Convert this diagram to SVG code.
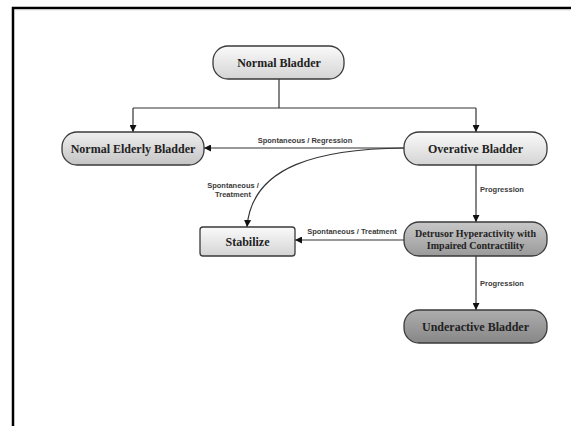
<svg xmlns="http://www.w3.org/2000/svg" width="571" height="426" viewBox="0 0 571 426">
<style>
.node{stroke:#3a3a3a;stroke-width:1.3}
.nt{font-family:"Liberation Serif",serif;font-weight:bold;font-size:12px;fill:#222;text-anchor:middle}
.lt{font-family:"Liberation Sans",Arial,sans-serif;font-weight:bold;font-size:7.5px;fill:#3a3a3a;text-anchor:middle}
.c{fill:none;stroke:#333;stroke-width:1.2}
</style>
<defs>
<linearGradient id="gW" x1="0" y1="0" x2="0" y2="1"><stop offset="0" stop-color="#fafafa"/><stop offset="1" stop-color="#d4d4d4"/></linearGradient>
<linearGradient id="gL" x1="0" y1="0" x2="0" y2="1"><stop offset="0" stop-color="#eeeeee"/><stop offset="1" stop-color="#c4c4c4"/></linearGradient>
<linearGradient id="gM" x1="0" y1="0" x2="0" y2="1"><stop offset="0" stop-color="#c8c8c8"/><stop offset="1" stop-color="#9a9a9a"/></linearGradient>
<linearGradient id="gD" x1="0" y1="0" x2="0" y2="1"><stop offset="0" stop-color="#adadad"/><stop offset="1" stop-color="#878787"/></linearGradient>
<marker id="a" viewBox="0 0 10 10" refX="10" refY="5" markerWidth="7" markerHeight="7" markerUnits="userSpaceOnUse" orient="auto"><path d="M0,0 L10,5 L0,10 z" fill="#111"/></marker>
</defs>
<rect width="571" height="426" fill="#fff"/>
<path d="M13,426 V8 H571" fill="none" stroke="#000" stroke-width="2.5"/>
<line x1="14.5" y1="9.8" x2="571" y2="9.8" stroke="#ccc" stroke-width="0.8"/>
<g id="connectors">
<path class="c" d="M279,79 V108"/>
<path class="c" d="M133,108 H476"/>
<path class="c" d="M133,108 V132" marker-end="url(#a)"/>
<path class="c" d="M476,108 V132" marker-end="url(#a)"/>
<path class="c" d="M404,148 H204" marker-end="url(#a)"/>
<path class="c" d="M404,148 C320,149 252,165 247,227" marker-end="url(#a)"/>
<path class="c" d="M476,165 V222" marker-end="url(#a)"/>
<path class="c" d="M404,240 H295" marker-end="url(#a)"/>
<path class="c" d="M476,256 V310" marker-end="url(#a)"/>
<text class="lt" x="305" y="143">Spontaneous /  Regression</text>
<text class="lt" x="233" y="188">Spontaneous /</text>
<text class="lt" x="233" y="197">Treatment</text>
<text class="lt" x="502" y="192">Progression</text>
<text class="lt" x="352" y="234">Spontaneous /  Treatment</text>
<text class="lt" x="502" y="286">Progression</text>
</g>
<g id="normal-bladder">
<rect class="node" x="213" y="46" width="131" height="33" rx="15" fill="url(#gW)"/>
<text class="nt" x="279" y="66.5">Normal Bladder</text>
</g>
<g id="normal-elderly-bladder">
<rect class="node" x="62" y="132" width="142" height="33" rx="15" fill="url(#gL)"/>
<text class="nt" x="133" y="152.5">Normal Elderly Bladder</text>
</g>
<g id="overative-bladder">
<rect class="node" x="404" y="132" width="143" height="33" rx="15" fill="url(#gW)"/>
<text class="nt" x="475.5" y="152.5">Overative Bladder</text>
</g>
<g id="stabilize">
<rect class="node" x="200" y="227" width="95" height="29" rx="3" fill="url(#gW)"/>
<text class="nt" x="247.5" y="245.5">Stabilize</text>
</g>
<g id="detrusor">
<rect class="node" x="404" y="222" width="143" height="34" rx="15" fill="url(#gM)"/>
<text class="nt" x="475.5" y="237" style="font-size:10px">Detrusor Hyperactivity with</text>
<text class="nt" x="475.5" y="249" style="font-size:10px">Impaired Contractility</text>
</g>
<g id="underactive-bladder">
<rect class="node" x="404" y="310" width="143" height="33" rx="15" fill="url(#gD)"/>
<text class="nt" x="475.5" y="330.5">Underactive Bladder</text>
</g>
</svg>
